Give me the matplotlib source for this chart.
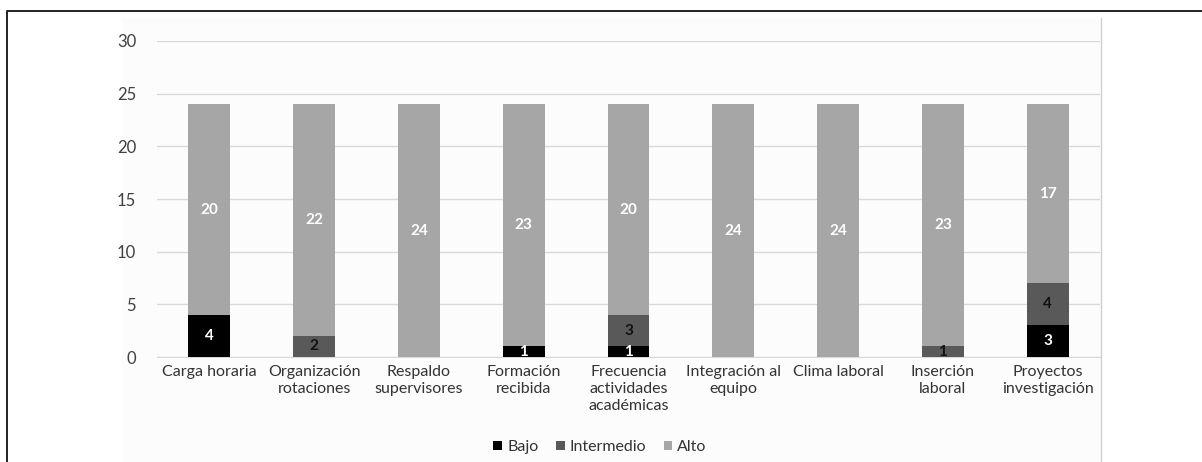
import numpy as np
import matplotlib
matplotlib.use('Agg')
from matplotlib import pyplot as plt
from matplotlib.patches import Rectangle
from matplotlib.lines import Line2D

plt.rcParams['font.family'] = ['Lato', 'DejaVu Sans']

categorias = ['Carga horaria', 'Organización\nrotaciones', 'Respaldo\nsupervisores',
              'Formación\nrecibida', 'Frecuencia\nactividades\nacadémicas',
              'Integración al\nequipo', 'Clima laboral', 'Inserción\nlaboral',
              'Proyectos\ninvestigación']
bajo = [4, 0, 0, 1, 1, 0, 0, 0, 3]
intermedio = [0, 2, 0, 0, 3, 0, 0, 1, 4]
alto = [20, 22, 24, 23, 20, 24, 24, 23, 17]

series = [('Bajo', bajo, '#000000', 'white'),
          ('Intermedio', intermedio, '#595959', '#111111'),
          ('Alto', alto, '#a6a6a6', 'white')]

W, H = 1202, 462
fig = plt.figure(figsize=(W / 100, H / 100), dpi=100)

# chart area background and its right border
fig.patches.append(Rectangle((122 / W, 0), (1101 - 122) / W, 1 - 18 / H,
                             transform=fig.transFigure, facecolor='#fcfcfc',
                             edgecolor='none', zorder=-10))
fig.lines.append(Line2D([1101 / W, 1101 / W], [0, 1 - 18 / H], transform=fig.transFigure,
                        color='#d0d0d0', lw=1.0))
# outer frame
fig.lines.append(Line2D([7 / W, 7 / W, 1], [0, 1 - 11 / H, 1 - 11 / H],
                        transform=fig.transFigure, color='#222222', lw=1.4))

ax = fig.add_axes([157 / W, 105 / H, (1100 - 157) / W, (357 - 41) / H])
ax.set_facecolor('none')

x = np.arange(len(categorias))
base = np.zeros(len(categorias))
for nombre, vals, color, tcolor in series:
    vals = np.array(vals, dtype=float)
    ax.bar(x, vals, width=0.4, bottom=base, color=color, label=nombre, zorder=3)
    for xi, b, v in zip(x, base, vals):
        if v > 0:
            ax.text(xi, b + v / 2, '%d' % v, ha='center', va='center', color=tcolor,
                    fontsize=11, fontweight='bold', zorder=4)
    base += vals

ax.set_ylim(0, 30)
ax.set_xlim(-0.5, len(categorias) - 0.5)
ax.set_yticks(range(0, 31, 5))
ax.yaxis.grid(True, color='#d9d9d9', lw=1.0, zorder=0)
for s in ['top', 'right', 'left']:
    ax.spines[s].set_visible(False)
ax.spines['bottom'].set_color('#d9d9d9')
ax.tick_params(axis='y', length=0, pad=15, labelsize=12, labelcolor='#404040')
ax.tick_params(axis='x', length=0, pad=6, labelsize=11.5, labelcolor='#333333')
ax.set_xticks(x)
ax.set_xticklabels(categorias, linespacing=1.25)

fig.legend(loc='center', bbox_to_anchor=(600 / W, 1 - 447 / H), ncol=3, frameon=False,
           fontsize=11.5, handlelength=0.55, handleheight=0.55, handletextpad=0.3,
           columnspacing=1.1, labelcolor='#333333')

fig.savefig('out.png', dpi=100)
